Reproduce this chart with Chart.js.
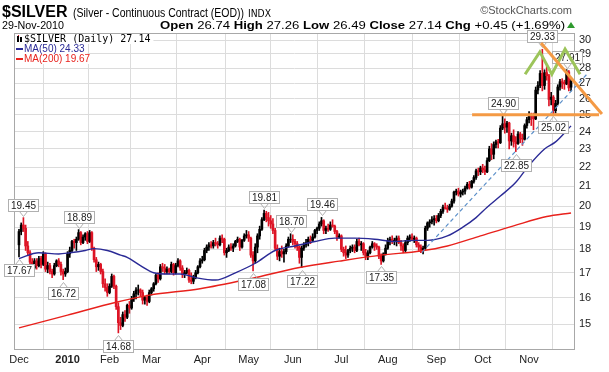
<!DOCTYPE html>
<html>
<head>
<meta charset="utf-8">
<script src="https://cdn.jsdelivr.net/npm/chart.js@4.4.1/dist/chart.umd.min.js"></script>
<style>
  html, body { margin: 0; padding: 0; background: #fff; }
  #wrap { width: 609px; height: 372px; }
</style>
</head>
<body>
<div id="wrap"><canvas id="chart" width="609" height="372"></canvas></div>
<script>
// trading day index 0 = 1-Dec-2009, 250 = 29-Nov-2010
const monthIdx = [0, 22, 41, 60, 83, 104, 124, 146, 167, 189, 210, 231];
const monthLabels = ['Dec', '2010', 'Feb', 'Mar', 'Apr', 'May', 'Jun', 'Jul', 'Aug', 'Sep', 'Oct', 'Nov'];
const yTicks = [15, 16, 17, 18, 19, 20, 21, 22, 23, 24, 25, 26, 27, 28, 29, 30];

const opens = [
  18.20, 18.80, 19.10, 18.95, 18.15, 17.85, 17.45, 17.20, 17.50, 17.30, 17.60, 17.35, 17.80, 17.15, 17.30, 17.05, 16.95, 17.30, 17.50, 17.35, 17.05, 16.95,
  17.05, 17.80, 17.95, 18.35, 18.30, 18.45, 18.75, 18.30, 18.55, 18.70, 18.35, 18.75, 18.05, 17.55, 17.25, 17.35, 17.05, 16.55, 16.40,
  16.20, 16.45, 16.85, 16.45, 15.65, 15.05, 14.95, 15.35, 15.25, 15.70, 15.60, 15.95, 16.15, 16.30, 16.30, 16.20, 15.90, 16.00, 15.85,
  16.20, 16.35, 16.55, 16.90, 16.75, 17.25, 17.20, 17.05, 17.15, 17.05, 17.35, 17.00, 17.30, 17.50, 17.20, 16.95, 17.00, 17.10, 16.70, 16.65, 16.80, 17.00, 17.25,
  17.50, 17.55, 17.95, 18.10, 18.20, 18.15, 18.30, 18.25, 18.20, 18.50, 18.45, 17.85, 17.95, 18.10, 18.05, 18.15, 18.35, 18.45, 18.10, 18.40, 18.60,
  18.65, 18.50, 17.75, 17.50, 18.10, 18.60, 18.90, 19.35, 19.65, 19.45, 19.30, 19.15, 18.85, 18.05, 17.70, 17.90, 17.80, 17.90, 18.15, 18.45,
  18.45, 18.35, 18.25, 18.10, 17.65, 18.05, 18.20, 18.30, 18.45, 18.40, 18.55, 18.85, 18.95, 19.15, 19.30, 18.85, 18.95, 18.90, 19.10, 19.05, 18.80, 18.55,
  18.60, 18.00, 17.85, 17.75, 17.95, 18.05, 18.10, 17.95, 18.35, 18.20, 18.25, 17.85, 17.70, 17.85, 18.10, 18.25, 18.15, 18.10, 17.70, 17.50, 17.80,
  18.05, 18.40, 18.45, 18.35, 18.40, 18.50, 18.30, 18.15, 17.95, 18.30, 18.50, 18.55, 18.45, 18.50, 18.20, 18.10, 17.95, 18.05, 18.95, 19.20, 19.25, 19.35,
  19.40, 19.30, 19.55, 19.75, 19.95, 19.90, 19.85, 20.00, 20.25, 20.70, 20.75, 20.60, 20.70, 20.75, 20.90, 21.10, 20.95, 21.25, 21.45, 21.80, 21.75,
  21.95, 21.85, 21.75, 22.35, 23.00, 22.70, 23.25, 23.40, 23.35, 24.20, 24.45, 24.25, 24.50, 23.45, 23.75, 23.40, 23.30, 23.85, 23.60, 23.55, 24.35,
  24.70, 25.00, 24.90, 24.75, 26.55, 26.85, 27.65, 26.85, 27.70, 27.50, 25.95, 26.10, 25.25, 25.70, 26.75, 27.10, 27.05, 26.95, 27.75, 26.74
];
const highs = [
  18.90, 19.20, 19.45, 19.10, 18.35, 17.95, 17.60, 17.60, 17.60, 17.70, 17.70, 17.90, 17.85, 17.45, 17.40, 17.15, 17.40, 17.55, 17.60, 17.45, 17.15, 17.20,
  17.90, 18.10, 18.40, 18.45, 18.55, 18.89, 18.80, 18.65, 18.75, 18.80, 18.85, 18.80, 18.10, 17.65, 17.45, 17.40, 17.15, 16.75, 16.55,
  16.55, 16.95, 16.90, 16.50, 15.80, 15.25, 15.45, 15.50, 15.75, 15.85, 16.05, 16.25, 16.40, 16.50, 16.35, 16.30, 16.05, 16.10, 16.30,
  16.40, 16.60, 16.95, 17.00, 17.35, 17.40, 17.35, 17.25, 17.20, 17.45, 17.40, 17.40, 17.60, 17.55, 17.30, 17.10, 17.20, 17.15, 17.00, 16.90, 17.10, 17.30, 17.60,
  17.70, 18.05, 18.20, 18.30, 18.35, 18.40, 18.50, 18.35, 18.60, 18.65, 18.50, 18.05, 18.20, 18.25, 18.25, 18.40, 18.55, 18.50, 18.45, 18.70, 18.85,
  18.80, 18.55, 17.90, 18.25, 18.70, 19.05, 19.45, 19.81, 19.75, 19.70, 19.55, 19.40, 18.95, 18.20, 18.05, 18.15, 18.00, 18.25, 18.55, 18.70,
  18.65, 18.45, 18.35, 18.15, 18.15, 18.30, 18.45, 18.55, 18.60, 18.70, 18.90, 19.00, 19.25, 19.46, 19.35, 19.05, 19.15, 19.25, 19.35, 19.10, 18.85, 18.70,
  18.65, 18.10, 18.15, 18.00, 18.15, 18.20, 18.20, 18.45, 18.50, 18.35, 18.30, 18.00, 17.95, 18.15, 18.35, 18.30, 18.25, 18.15, 17.80, 17.85, 18.20,
  18.50, 18.55, 18.60, 18.50, 18.60, 18.60, 18.40, 18.25, 18.40, 18.60, 18.65, 18.70, 18.60, 18.55, 18.30, 18.20, 18.15, 19.05, 19.25, 19.35, 19.50, 19.55,
  19.55, 19.65, 19.85, 20.05, 20.15, 20.05, 20.10, 20.35, 20.75, 20.85, 20.90, 20.80, 20.85, 21.00, 21.20, 21.25, 21.30, 21.55, 21.90, 21.95, 22.05,
  22.15, 22.05, 22.50, 23.15, 23.30, 23.40, 23.50, 23.55, 24.35, 24.90, 24.75, 24.60, 24.55, 23.90, 24.10, 23.70, 24.00, 23.95, 23.85, 24.45, 24.85,
  25.20, 25.10, 25.10, 26.75, 27.10, 27.85, 29.33, 27.90, 28.15, 27.60, 26.40, 26.20, 25.90, 26.90, 27.25, 27.30, 27.20, 27.91, 27.85, 27.26
];
const lows = [
  17.67, 18.65, 18.80, 17.95, 17.75, 17.30, 17.05, 17.15, 17.15, 17.25, 17.20, 17.30, 17.05, 17.00, 16.95, 16.80, 16.90, 17.25, 17.25, 16.90, 16.72, 16.85,
  17.00, 17.65, 17.85, 18.05, 17.95, 18.40, 18.20, 18.25, 18.40, 18.25, 18.30, 17.95, 17.45, 17.05, 17.10, 16.95, 16.40, 16.25, 16.05,
  16.15, 16.40, 16.35, 15.55, 14.68, 14.80, 14.90, 15.10, 15.20, 15.40, 15.55, 15.85, 15.95, 16.10, 16.05, 15.75, 15.75, 15.70, 15.80,
  16.10, 16.25, 16.50, 16.60, 16.70, 17.05, 16.95, 16.95, 16.95, 17.00, 16.90, 16.95, 17.25, 17.10, 16.80, 16.80, 16.95, 16.60, 16.55, 16.55, 16.75, 16.95, 17.20,
  17.40, 17.50, 17.85, 17.95, 18.05, 18.05, 18.15, 18.05, 18.15, 18.30, 17.75, 17.65, 17.90, 17.95, 17.90, 18.10, 18.30, 17.95, 18.05, 18.35, 18.50,
  18.35, 17.65, 17.08, 17.40, 17.85, 18.45, 18.85, 19.30, 19.25, 19.05, 18.95, 18.70, 17.95, 17.55, 17.50, 17.65, 17.45, 17.80, 18.10, 18.30,
  18.20, 18.05, 17.95, 17.40, 17.22, 17.95, 18.10, 18.15, 18.25, 18.35, 18.50, 18.70, 18.85, 19.05, 18.70, 18.70, 18.80, 18.85, 19.00, 18.70, 18.40, 18.50,
  17.90, 17.70, 17.60, 17.65, 17.85, 17.90, 17.85, 17.90, 18.15, 17.95, 17.75, 17.55, 17.55, 17.80, 18.05, 17.95, 18.00, 17.60, 17.35, 17.45, 17.75,
  18.00, 18.20, 18.25, 18.20, 18.15, 18.25, 17.95, 17.85, 17.90, 18.20, 18.35, 18.40, 18.30, 18.10, 17.95, 17.85, 17.80, 18.00, 18.85, 19.00, 19.15, 19.10,
  19.20, 19.25, 19.45, 19.65, 19.85, 19.70, 19.80, 19.95, 20.15, 20.55, 20.50, 20.45, 20.55, 20.60, 20.85, 20.85, 20.90, 21.15, 21.35, 21.55, 21.60,
  21.70, 21.60, 21.70, 22.30, 22.40, 22.45, 23.05, 23.05, 23.30, 24.10, 23.90, 23.95, 23.00, 23.20, 23.10, 22.85, 23.25, 23.35, 23.20, 23.50, 24.20,
  24.50, 24.35, 24.10, 24.70, 26.30, 26.70, 26.50, 26.60, 27.20, 25.55, 25.60, 25.02, 25.10, 25.60, 26.55, 26.65, 26.60, 26.90, 26.50, 26.49
];
const closes = [
  18.80, 19.10, 18.95, 18.15, 17.85, 17.45, 17.20, 17.50, 17.30, 17.60, 17.35, 17.80, 17.15, 17.30, 17.05, 16.95, 17.30, 17.50, 17.35, 17.05, 16.95, 17.05,
  17.80, 17.95, 18.35, 18.30, 18.45, 18.75, 18.30, 18.55, 18.70, 18.35, 18.75, 18.05, 17.55, 17.25, 17.35, 17.05, 16.55, 16.40, 16.20,
  16.45, 16.85, 16.45, 15.65, 15.05, 14.95, 15.35, 15.25, 15.70, 15.60, 15.95, 16.15, 16.30, 16.30, 16.20, 15.90, 16.00, 15.85, 16.20,
  16.35, 16.55, 16.90, 16.75, 17.25, 17.20, 17.05, 17.15, 17.05, 17.35, 17.00, 17.30, 17.50, 17.20, 16.95, 17.00, 17.10, 16.70, 16.65, 16.80, 17.00, 17.25, 17.50,
  17.55, 17.95, 18.10, 18.20, 18.15, 18.30, 18.25, 18.20, 18.50, 18.45, 17.85, 17.95, 18.10, 18.05, 18.15, 18.35, 18.45, 18.10, 18.40, 18.60, 18.65,
  18.50, 17.75, 17.50, 18.10, 18.60, 18.90, 19.35, 19.65, 19.45, 19.30, 19.15, 18.85, 18.05, 17.70, 17.90, 17.80, 17.90, 18.15, 18.45, 18.45,
  18.35, 18.25, 18.10, 17.65, 18.05, 18.20, 18.30, 18.45, 18.40, 18.55, 18.85, 18.95, 19.15, 19.30, 18.85, 18.95, 18.90, 19.10, 19.05, 18.80, 18.55, 18.60,
  18.00, 17.85, 17.75, 17.95, 18.05, 18.10, 17.95, 18.35, 18.20, 18.25, 17.85, 17.70, 17.85, 18.10, 18.25, 18.15, 18.10, 17.70, 17.50, 17.80, 18.05,
  18.40, 18.45, 18.35, 18.40, 18.50, 18.30, 18.15, 17.95, 18.30, 18.50, 18.55, 18.45, 18.50, 18.20, 18.10, 17.95, 18.05, 18.95, 19.20, 19.25, 19.35, 19.40,
  19.30, 19.55, 19.75, 19.95, 19.90, 19.85, 20.00, 20.25, 20.70, 20.75, 20.60, 20.70, 20.75, 20.90, 21.10, 20.95, 21.25, 21.45, 21.80, 21.75, 21.95,
  21.85, 21.75, 22.35, 23.00, 22.70, 23.25, 23.40, 23.35, 24.20, 24.45, 24.25, 24.50, 23.45, 23.75, 23.40, 23.30, 23.85, 23.60, 23.55, 24.35, 24.70,
  25.00, 24.90, 24.75, 26.55, 26.85, 27.65, 26.85, 27.70, 27.50, 25.95, 26.10, 25.25, 25.70, 26.75, 27.10, 27.05, 26.95, 27.75, 26.69, 27.14
];

// moving averages: [day index, value]
const ma50 = [
  [0, 17.60], [9, 17.85], [18, 17.80], [23, 17.85], [30, 17.95], [34, 18.03], [40, 17.95], [46, 17.75], [49, 17.65],
  [55, 17.30], [61, 17.00], [67, 16.95], [73, 16.95], [80, 16.80], [89, 16.70], [98, 17.00], [107, 17.40], [116, 17.95],
  [125, 18.15], [134, 18.35], [143, 18.50], [152, 18.50], [161, 18.45], [170, 18.35], [179, 18.40], [185, 18.40],
  [194, 18.60], [201, 19.00], [207, 19.45], [212, 19.95], [218, 20.50], [225, 21.20], [231, 22.10], [238, 23.00],
  [243, 23.40], [250, 24.33]
];
const ma200 = [
  [0, 14.86], [22, 15.33], [44, 15.82], [59, 16.10], [82, 16.35], [105, 16.76], [127, 17.22], [145, 17.49],
  [164, 17.75], [182, 17.93], [194, 18.15], [209, 18.60], [224, 19.06], [239, 19.50], [250, 19.67]
];

// hand drawn marks on the original chart, in [day index, price]
const trendLine = [[182.5, 17.87], [257.7, 27.68]];
const supportLine = [[205.2, 25.0], [262.7, 25.0]];
const resistLine = [[236.4, 29.79], [264.0, 25.05]];
const mShape = [[229.2, 27.6], [235.9, 29.15], [241.3, 27.6], [247.3, 29.34], [254.1, 27.6]];

// labelled highs / lows: [day index, 'hi' | 'lo']
const peaks = [
  [2, 'hi'], [0, 'lo'], [20, 'lo'], [27, 'hi'], [45, 'lo'], [106, 'lo'], [111, 'hi'], [123, 'hi'],
  [128, 'lo'], [137, 'hi'], [164, 'lo'], [219, 'hi'], [225, 'lo'], [237, 'hi'], [242, 'lo'], [248, 'hi']
];

const SANS = '"Liberation Sans", Arial, sans-serif';
const RED = '#dd1425';
const BLUE = '#2a2a96';
const MA_RED = '#e8211c';
const last = closes.length - 1;

const barColors = closes.map((c, i) => (i > 0 && c < closes[i - 1]) ? RED : '#000');
const toXY = arr => arr.map(p => ({ x: p[0], y: p[1] }));

const peakLabels = {
    id: 'peakLabels',
    afterDatasetDraw(chart, args) {
        if (args.index !== 4) return;
        const { ctx, scales: { x, y } } = chart;
        ctx.save();
        ctx.font = '10px ' + SANS;
        ctx.textAlign = 'center';
        ctx.textBaseline = 'middle';
        ctx.lineWidth = 1;
        peaks.forEach(([i, side]) => {
            const v = side === 'hi' ? highs[i] : lows[i];
            const txt = v.toFixed(2);
            const px = Math.round(x.getPixelForValue(i));
            const py = y.getPixelForValue(v);
            const dir = side === 'hi' ? -1 : 1;
            const tip = Math.round(py + dir * 2);
            const edge = tip + dir * 5;
            const w = Math.round(ctx.measureText(txt).width) + 5;
            const h = 12;
            const bx = Math.round(px - w / 2) + 0.5;
            const by = (side === 'hi' ? edge - h : edge) + 0.5;
            ctx.fillStyle = '#fff';
            ctx.strokeStyle = '#b0b0b0';
            ctx.fillRect(bx, by, w, h);
            ctx.strokeRect(bx, by, w, h);
            ctx.beginPath();
            ctx.moveTo(px - 4 + 0.5, edge + 0.5);
            ctx.lineTo(px + 0.5, tip + 0.5);
            ctx.lineTo(px + 4 + 0.5, edge + 0.5);
            ctx.stroke();
            ctx.fillStyle = '#222';
            ctx.fillText(txt, bx + w / 2, by + h / 2 + 0.5);
        });
        ctx.restore();
    }
};

const frameAndLegend = {
    id: 'frameAndLegend',
    beforeDatasetsDraw(chart) {
        const { ctx, chartArea: a } = chart;
        ctx.save();
        ctx.strokeStyle = '#a8a8a8';
        ctx.lineWidth = 1;
        ctx.strokeRect(a.left + 0.5, a.top + 0.5, a.right - a.left - 1, a.bottom - a.top - 1);

        const rows = [
            { text: '$SILVER (Daily) ' + closes[last].toFixed(2), color: '#000', font: '10px "DejaVu Sans Mono", monospace', y: a.top + 6 },
            { text: 'MA(50) ' + ma50[ma50.length - 1][1].toFixed(2), color: BLUE, font: '10px ' + SANS, y: a.top + 16 },
            { text: 'MA(200) ' + ma200[ma200.length - 1][1].toFixed(2), color: MA_RED, font: '10px ' + SANS, y: a.top + 26 }
        ];
        const tx = a.left + 10;
        rows.forEach((r, k) => {
            ctx.font = r.font;
            const w = ctx.measureText(r.text).width;
            ctx.fillStyle = '#fff';
            ctx.fillRect(a.left + 1, r.y - 5, tx - a.left + w + 2, 10);
            ctx.fillStyle = r.color;
            ctx.textBaseline = 'middle';
            ctx.textAlign = 'left';
            ctx.fillText(r.text, tx, r.y);
            if (k === 0) {
                ctx.fillStyle = '#000';
                ctx.fillRect(a.left + 3, r.y - 3, 2, 6);
                ctx.fillRect(a.left + 6, r.y - 2, 2, 5);
                ctx.fillStyle = RED;
                ctx.fillRect(a.left + 4, r.y - 4, 1, 1);
            } else {
                ctx.strokeStyle = r.color;
                ctx.lineWidth = 2;
                ctx.beginPath();
                ctx.moveTo(a.left + 2, r.y);
                ctx.lineTo(a.left + 9, r.y);
                ctx.stroke();
            }
        });
        ctx.restore();
    },
    afterDraw(chart) {
        const ctx = chart.ctx;
        ctx.save();
        ctx.textBaseline = 'alphabetic';
        ctx.textAlign = 'left';
        ctx.fillStyle = '#000';
        ctx.font = 'bold 16px ' + SANS;
        ctx.fillText('$SILVER', 2, 17, 68);
        ctx.font = '12px ' + SANS;
        ctx.fillText('(Silver - Continuous Contract (EOD))', 73, 17, 171);
        ctx.font = '10px "DejaVu Sans", sans-serif';
        ctx.fillText('INDX', 248, 17, 23);
        ctx.fillStyle = '#555';
        ctx.font = '11px ' + SANS;
        ctx.textAlign = 'right';
        ctx.fillText('\u00a9StockCharts.com', 572, 14);

        ctx.textAlign = 'left';
        ctx.fillStyle = '#000';
        ctx.font = '11px ' + SANS;
        ctx.fillText('29-Nov-2010', 2, 29, 62);

        const chg = closes[last] - closes[last - 1];
        const pct = chg / closes[last - 1] * 100;
        const sign = chg >= 0 ? '+' : '';
        const parts = [
            ['Open ', true], [opens[last].toFixed(2) + ' ', false],
            ['High ', true], [highs[last].toFixed(2) + ' ', false],
            ['Low ', true], [lows[last].toFixed(2) + ' ', false],
            ['Close ', true], [closes[last].toFixed(2) + ' ', false],
            ['Chg ', true], [sign + chg.toFixed(2) + ' (' + sign + pct.toFixed(2) + '%)', false]
        ];
        const fontOf = b => b ? 'bold 11px ' + SANS : '11px ' + SANS;
        let total = 0;
        parts.forEach(([t, b]) => { ctx.font = fontOf(b); total += ctx.measureText(t).width; });
        const x0 = 160, x1 = 565;
        const sx = (x1 - x0) / total;
        ctx.translate(x0, 29);
        ctx.scale(sx, 1);
        let cx = 0;
        parts.forEach(([t, b]) => {
            ctx.font = fontOf(b);
            ctx.fillText(t, cx, 0);
            cx += ctx.measureText(t).width;
        });
        ctx.setTransform(1, 0, 0, 1, 0, 0);
        ctx.fillStyle = '#2e9a2e';
        ctx.beginPath();
        ctx.moveTo(567, 28);
        ctx.lineTo(575, 28);
        ctx.lineTo(571, 22);
        ctx.closePath();
        ctx.fill();
        ctx.restore();
    }
};

const config = {
    type: 'bar',
    data: {
        datasets: [
            {
                type: 'bar', label: 'range',
                data: highs.map((h, i) => ({ x: i, y: [lows[i], h] })),
                backgroundColor: barColors, borderWidth: 0,
                barThickness: 1, grouped: false, order: 6
            },
            {
                type: 'bar', label: 'body',
                data: opens.map((o, i) => ({ x: i, y: [o, closes[i]] })),
                backgroundColor: barColors, borderWidth: 0,
                barThickness: 2, grouped: false, order: 5
            },
            {
                type: 'line', label: 'MA(200)', data: toXY(ma200),
                borderColor: MA_RED, borderWidth: 1.4, pointRadius: 0,
                cubicInterpolationMode: 'monotone', order: 4
            },
            {
                type: 'line', label: 'MA(50)', data: toXY(ma50),
                borderColor: BLUE, borderWidth: 1.4, pointRadius: 0,
                cubicInterpolationMode: 'monotone', order: 4
            },
            {
                type: 'line', label: 'trend', data: toXY(trendLine),
                borderColor: '#5b8fc9', borderWidth: 1.2, borderDash: [4, 3],
                pointRadius: 0, clip: false, order: 3
            },
            {
                type: 'line', label: 'support', data: toXY(supportLine),
                borderColor: '#f49a45', borderWidth: 3, pointRadius: 0, clip: false, order: 1
            },
            {
                type: 'line', label: 'resist', data: toXY(resistLine),
                borderColor: '#f49a45', borderWidth: 3, pointRadius: 0, clip: false, order: 1
            },
            {
                type: 'line', label: 'm', data: toXY(mShape),
                borderColor: '#9cc45a', borderWidth: 3, pointRadius: 0, clip: false, order: 1
            }
        ]
    },
    options: {
        responsive: false,
        animation: false,
        events: [],
        layout: { padding: { left: 14, top: 33, right: 0, bottom: 0 } },
        plugins: { legend: { display: false }, tooltip: { enabled: false } },
        scales: {
            x: {
                type: 'linear',
                min: -2.26,
                max: 251.8,
                offset: false,
                afterBuildTicks: s => { s.ticks = monthIdx.map(v => ({ value: v })); },
                afterFit: s => { s.height = 22; },
                grid: { color: '#dcdcdc', drawTicks: false },
                border: { display: false },
                ticks: {
                    padding: 3,
                    maxRotation: 0,
                    autoSkip: false,
                    color: '#222',
                    font: c => ({ family: SANS, size: 11, weight: c.index === 1 ? 'bold' : 'normal' }),
                    callback: (v, i) => monthLabels[i]
                }
            },
            y: {
                type: 'logarithmic',
                position: 'right',
                min: 14.08,
                max: 30.52,
                afterBuildTicks: s => { s.ticks = yTicks.map(v => ({ value: v })); },
                afterFit: s => { s.width = 34; },
                grid: { color: '#dcdcdc', drawTicks: false },
                border: { display: false },
                ticks: {
                    padding: 4,
                    color: '#222',
                    font: { family: SANS, size: 11 },
                    callback: v => String(v)
                }
            }
        }
    },
    plugins: [peakLabels, frameAndLegend]
};

new Chart(document.getElementById('chart'), config);
</script>
</body>
</html>
